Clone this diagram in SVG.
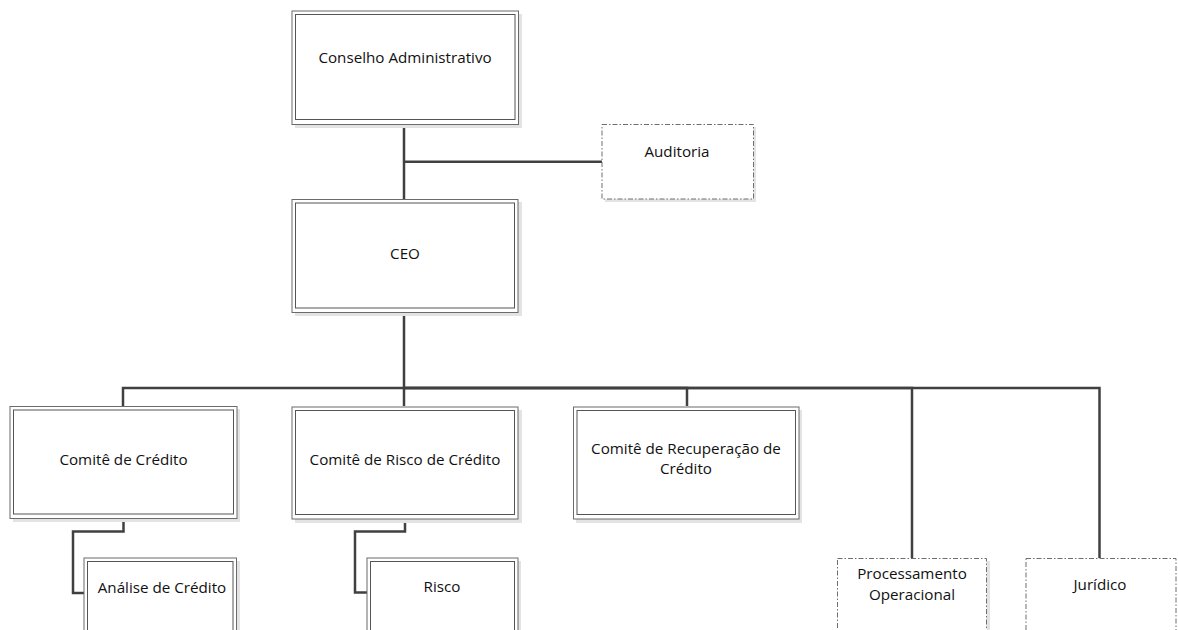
<svg xmlns="http://www.w3.org/2000/svg" width="1178" height="630" viewBox="0 0 1178 630">
<style>
.sh{fill:#e3e3e3;stroke:none}
.o{fill:#fff;stroke:#6b6b6b;stroke-width:1}
.i{fill:#fff;stroke:#555;stroke-width:1}
.d{fill:#fff;stroke:#6e6e6e;stroke-width:1;stroke-dasharray:5 2 1.5 2}
.c{fill:none;stroke:#404040;stroke-width:2.5}
text{font-family:"Open Sans","Liberation Sans",sans-serif;font-size:15.2px;fill:#111;text-anchor:middle}
</style>
<rect width="1178" height="630" fill="#fff"/>
<g id="connectors">
<path class="c" d="M404 124V199M404 161.7H602"/>
<path class="c" d="M404 312V388H123V406"/>
<path class="c" d="M404 388V406"/>
<path class="c" d="M404 388H687V406"/>
<path class="c" d="M404 388H912V558"/>
<path class="c" d="M404 388H1099.5V558"/>
<path class="c" d="M123.5 518V531.5H73V593H84"/>
<path class="c" d="M405 519V531.5H355V592.5H367"/>
</g>
<g id="conselho">
<rect class="sh" x="295" y="14" width="227" height="114"/>
<rect class="o" x="292" y="11" width="226.5" height="113.5"/>
<rect class="i" x="295.5" y="14.5" width="219.5" height="105"/>
<text x="405" y="63">Conselho Administrativo</text>
</g>
<g id="auditoria">
<rect class="sh" x="605" y="127" width="151" height="75"/>
<rect class="d" x="602" y="124.5" width="151.5" height="74.5"/>
<text x="677" y="157">Auditoria</text>
</g>
<g id="ceo">
<rect class="sh" x="295" y="202" width="227" height="114"/>
<rect class="o" x="292" y="199.5" width="226" height="113"/>
<rect class="i" x="295.5" y="203" width="219" height="105"/>
<text x="405" y="259">CEO</text>
</g>
<g id="comite-credito">
<rect class="sh" x="13" y="409" width="227" height="113"/>
<rect class="o" x="10" y="406.5" width="227" height="112"/>
<rect class="i" x="13.5" y="410" width="220" height="104"/>
<text x="123.5" y="465">Comitê de Crédito</text>
</g>
<g id="comite-risco">
<rect class="sh" x="295" y="410" width="227" height="113"/>
<rect class="o" x="292" y="407" width="226" height="112"/>
<rect class="i" x="295.5" y="410.5" width="219" height="104"/>
<text x="405" y="465">Comitê de Risco de Crédito</text>
</g>
<g id="comite-recuperacao">
<rect class="sh" x="576" y="410" width="226" height="113"/>
<rect class="o" x="573.5" y="407" width="225.5" height="112"/>
<rect class="i" x="577" y="410.5" width="218.5" height="104"/>
<text x="686" y="454">Comitê de Recuperação de</text>
<text x="686" y="473.5">Crédito</text>
</g>
<g id="analise">
<rect class="sh" x="87" y="561" width="153" height="80"/>
<rect class="o" x="84" y="558" width="152.5" height="80"/>
<rect class="i" x="87.5" y="561.5" width="145.5" height="80"/>
<text x="162" y="592.5">Análise de Crédito</text>
</g>
<g id="risco">
<rect class="sh" x="370" y="561" width="151" height="80"/>
<rect class="o" x="367" y="558" width="151" height="80"/>
<rect class="i" x="370.5" y="561.5" width="144" height="80"/>
<text x="442" y="592">Risco</text>
</g>
<g id="processamento">
<rect class="sh" x="840" y="561" width="150" height="80"/>
<rect class="d" x="837.5" y="558.5" width="149" height="80"/>
<text x="912" y="579">Processamento</text>
<text x="912" y="600">Operacional</text>
</g>
<g id="juridico">
<rect class="d" x="1026" y="558.5" width="150" height="80"/>
<text x="1100" y="590">Jurídico</text>
</g>
</svg>
